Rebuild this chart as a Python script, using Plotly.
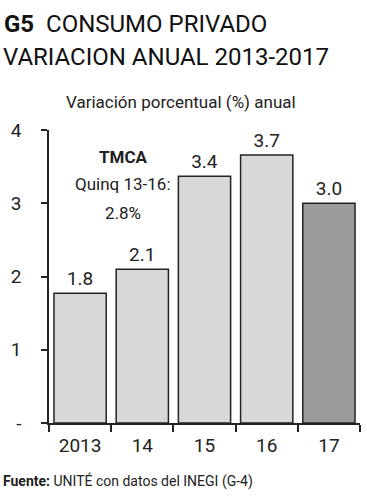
import plotly.graph_objects as go

categories = ["2013", "14", "15", "16", "17"]
values = [1.77, 2.1, 3.37, 3.66, 3.0]
labels = ["1.8", "2.1", "3.4", "3.7", "3.0"]
colors = ["#d8d8d8", "#d8d8d8", "#d8d8d8", "#d8d8d8", "#9b9b9b"]
ytick_vals = [0, 1, 2, 3, 4]
ytick_text = ["-", "1", "2", "3", "4"]

FONT = "Roboto, sans-serif"
W, H = 367, 500
L, R, T, B = 49, 7, 130, 77
PW, PH = W - L - R, H - T - B


def px(x):
    return (x - L) / PW


def py(y):
    return (H - B - y) / PH


fig = go.Figure(go.Bar(
    x=categories, y=values, text=labels, textposition="outside",
    marker=dict(color=colors, line=dict(color="#222222", width=1.5)),
    textfont=dict(size=19, color="#222"), cliponaxis=False, width=0.84,
    hoverinfo="skip",
))

fig.update_layout(
    width=W, height=H, margin=dict(l=L, r=R, t=T, b=B),
    paper_bgcolor="white", plot_bgcolor="white", showlegend=False,
    font=dict(family=FONT, color="#222"),
    xaxis=dict(showline=True, linecolor="#222", linewidth=1.5, ticks="outside",
               tickson="boundaries", ticklen=7, tickcolor="#222", tickwidth=1.5,
               tickfont=dict(size=19), showgrid=False, ticklabelstandoff=4),
    yaxis=dict(range=[0, 4], showline=True, linecolor="#222", linewidth=1.5,
               ticks="outside", ticklen=6, tickcolor="#222", tickwidth=1.5,
               tickvals=ytick_vals, ticktext=ytick_text, tickfont=dict(size=19),
               showgrid=False, zeroline=False, ticklabelstandoff=16),
    bargap=0.16,
)

fig.add_annotation(xref="paper", yref="paper", x=px(2), y=py(24), xanchor="left", yanchor="middle",
                   text="<b>G5</b>  CONSUMO PRIVADO", showarrow=False,
                   font=dict(size=24, family=FONT, color="#111"))
fig.add_annotation(xref="paper", yref="paper", x=px(1), y=py(57), xanchor="left", yanchor="middle",
                   text="VARIACION ANUAL 2013-2017", showarrow=False,
                   font=dict(size=24, family=FONT, color="#111"))
fig.add_annotation(xref="paper", yref="paper", x=px(181), y=py(102), xanchor="center", yanchor="middle",
                   text="Variación porcentual (%) anual", showarrow=False, font=dict(size=17))
fig.add_annotation(xref="paper", yref="paper", x=px(123), y=py(157), xanchor="center", yanchor="middle",
                   text="<b>TMCA</b>", showarrow=False, font=dict(size=17))
fig.add_annotation(xref="paper", yref="paper", x=px(123), y=py(184), xanchor="center", yanchor="middle",
                   text="Quinq 13-16:", showarrow=False, font=dict(size=17))
fig.add_annotation(xref="paper", yref="paper", x=px(123), y=py(213), xanchor="center", yanchor="middle",
                   text="2.8%", showarrow=False, font=dict(size=17))
fig.add_annotation(xref="paper", yref="paper", x=px(1), y=py(481), xanchor="left", yanchor="middle",
                   text="<b>Fuente:</b> UNITÉ con datos del INEGI (G-4)", showarrow=False, font=dict(size=14))

fig.write_html("out.html", config={"displayModeBar": False},
               post_script="document.body.style.margin='0';")
